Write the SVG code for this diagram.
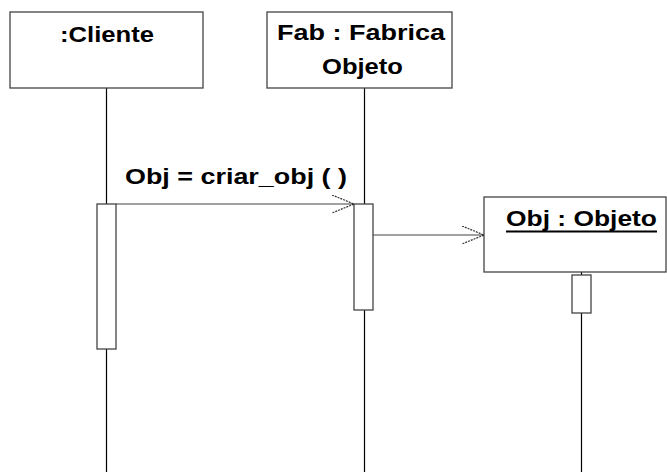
<svg xmlns="http://www.w3.org/2000/svg" width="667" height="472" viewBox="0 0 667 472">
<style>
.box{fill:#fff;stroke:#444;stroke-width:1.3}
.act{fill:#fff;stroke:#444;stroke-width:1.3}
.life{stroke:#000;stroke-width:1.2;fill:none}
.msg{stroke:#444;stroke-width:1.2;fill:none}
.t{font-family:"Liberation Sans",Arial,sans-serif;font-weight:bold;font-size:22px;fill:#000}
</style>
<defs>
<marker id="open" markerWidth="24" markerHeight="20" refX="22" refY="9" orient="auto" markerUnits="userSpaceOnUse">
<path d="M0,0 L22,9 L0,18" fill="none" stroke="#333" stroke-width="1.2" stroke-dasharray="2,1"/>
</marker>
</defs>
<g id="lifelines">
<line class="life" x1="106.5" y1="88" x2="106.5" y2="472"/>
<line class="life" x1="364.5" y1="88" x2="364.5" y2="472"/>
<line class="life" x1="581.5" y1="272" x2="581.5" y2="472"/>
</g>
<g id="cliente">
<rect class="box" x="10" y="12" width="193" height="76"/>
<text class="t" x="60" y="42" textLength="94" lengthAdjust="spacingAndGlyphs">:Cliente</text>
<rect class="act" x="97" y="204" width="19" height="145"/>
</g>
<g id="fab">
<rect class="box" x="267" y="12" width="185" height="76"/>
<text class="t" x="277" y="40" textLength="168" lengthAdjust="spacingAndGlyphs">Fab : Fabrica</text>
<text class="t" x="322" y="74" textLength="81" lengthAdjust="spacingAndGlyphs">Objeto</text>
<rect class="act" x="354" y="204" width="19" height="106"/>
</g>
<g id="obj">
<rect class="box" x="484" y="197" width="182" height="75"/>
<text class="t" x="506" y="226" textLength="151" lengthAdjust="spacingAndGlyphs">Obj : Objeto</text>
<line x1="506" y1="231.5" x2="657" y2="231.5" stroke="#000" stroke-width="2"/>
<rect class="act" x="572" y="275" width="19" height="38"/>
</g>
<g id="connectors">
<line class="msg" x1="116" y1="204" x2="354" y2="204" marker-end="url(#open)"/>
<text class="t" x="125" y="184" textLength="222" lengthAdjust="spacingAndGlyphs">Obj = criar_obj ( )</text>
<line class="msg" x1="373" y1="235" x2="484" y2="235" marker-end="url(#open)"/>
</g>
</svg>
